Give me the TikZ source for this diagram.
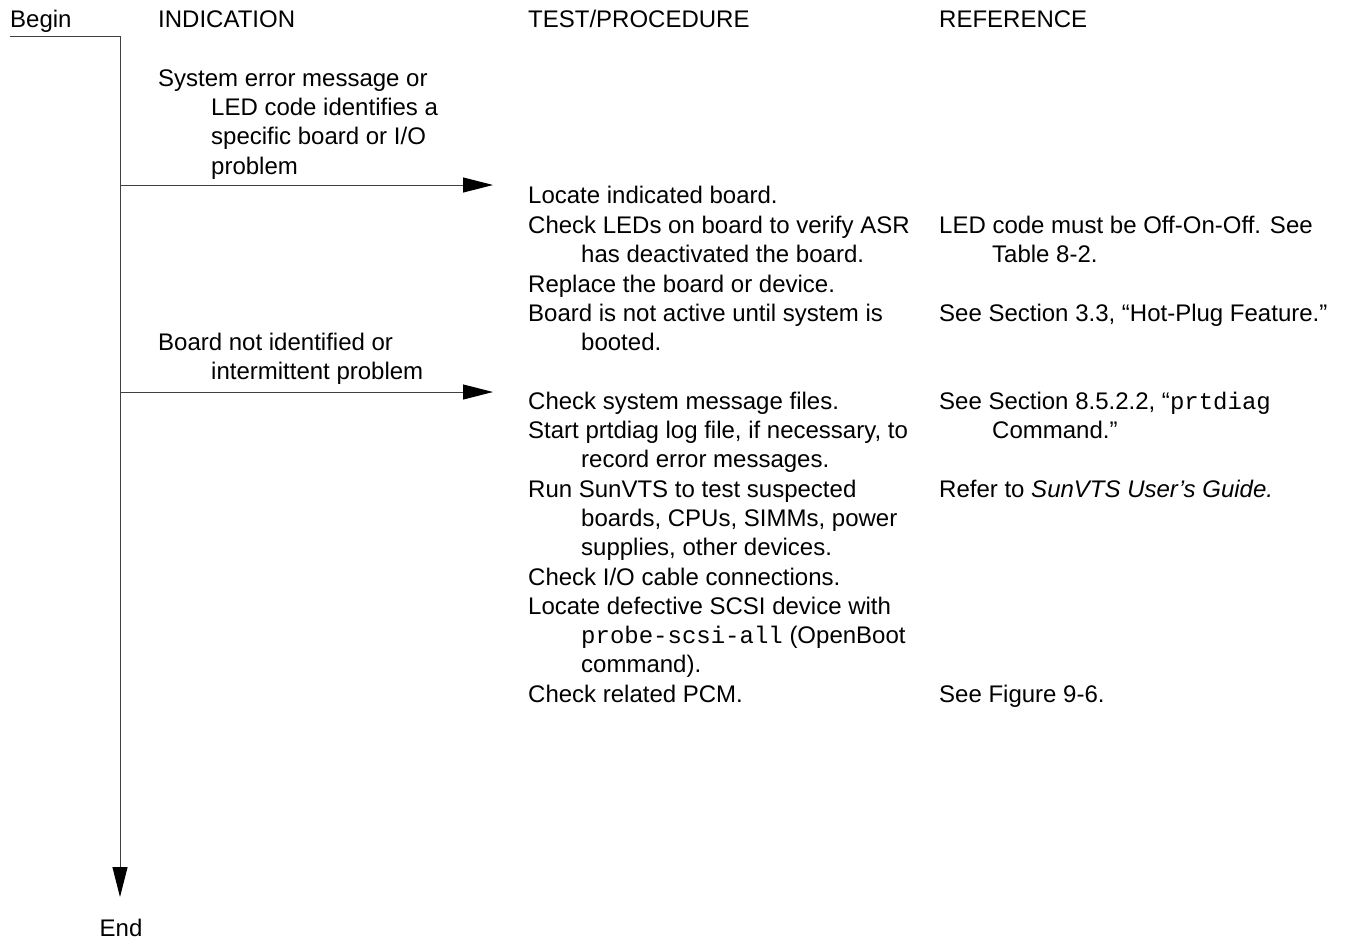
\documentclass[tikz,border=0pt]{standalone}
\usepackage{fontspec}
\setmainfont{Liberation Sans}
\setmonofont{Liberation Mono}
\usetikzlibrary{arrows.meta}
\newcommand{\hang}{\hspace*{53pt}}
\newcommand{\lines}[1]{\begin{tabular}[t]{@{}l@{}}#1\end{tabular}}
\begin{document}
\begin{tikzpicture}[x=1pt,y=-1pt,
  txt/.style={anchor=base west, inner sep=0pt, font=\fontsize{24}{29.35}\selectfont},
  conn/.style={draw=black!75, line width=1pt},
  tip/.style={-{Triangle[length=30pt,width=15pt,fill=black,color=black]}}]
\useasboundingbox (0,0) rectangle (1345,938);
\fill[white] (0,0) rectangle (1345,938);
% headings
\node[txt] (begin) at (10,27) {Begin};
\node[txt] (hind) at (158,27) {INDICATION};
\node[txt] (htest) at (528,27) {TEST/PROCEDURE};
\node[txt] (href) at (939,27) {REFERENCE};
% indications
\node[txt] (ind1) at (158,86) {\lines{System error message or\\\hang LED code identifies a\\\hang specific board or I/O\\\hang problem}};
\node[txt] (ind2) at (158,350) {\lines{Board not identified or\\\hang intermittent problem}};
% tests, group 1
\node[txt] (t1) at (528,203) {Locate indicated board.};
\node[txt] (t2) at (528,233) {\lines{Check LEDs on board to verify ASR\\\hang has deactivated the board.}};
\node[txt] (t3) at (528,292) {Replace the board or device.};
\node[txt] (t4) at (528,321) {\lines{Board is not active until system is\\\hang booted.}};
% tests, group 2
\node[txt] (t5) at (528,409) {Check system message files.};
\node[txt] (t6) at (528,438) {\lines{Start prtdiag log file, if necessary, to\\\hang record error messages.}};
\node[txt] (t7) at (528,497) {\lines{Run SunVTS to test suspected\\\hang boards, CPUs, SIMMs, power\\\hang supplies, other devices.}};
\node[txt] (t8) at (528,585) {Check I/O cable connections.};
\node[txt] (t9) at (528,614) {\lines{Locate defective SCSI device with\\\hang\texttt{probe-scsi-all} (OpenBoot\\\hang command).}};
\node[txt] (t10) at (528,702) {Check related PCM.};
% references
\node[txt] (r2) at (939,233) {\lines{LED code must be Off-On-Off. See\\\hang Table 8-2.}};
\node[txt] (r4) at (939,321) {See Section 3.3, “Hot-Plug Feature.”};
\node[txt] (r5) at (939,409) {\lines{See Section 8.5.2.2, “\texttt{prtdiag}\\\hang Command.”}};
\node[txt] (r7) at (939,497) {Refer to \textit{SunVTS User’s Guide.}};
\node[txt] (r10) at (939,702) {See Figure 9-6.};
% end
\node[txt, anchor=base, text depth=0pt] (end) at (121,936) {End};
% connectors
\coordinate (bstart) at (10,36);
\coordinate (corner) at (120,36);
\coordinate (vend) at (120,897);
\coordinate (b1) at (120,185);
\coordinate (a1) at (493,185);
\coordinate (b2) at (120,392);
\coordinate (a2) at (493,392);
\draw[conn, tip] (bstart) -- (corner) -- (vend);
\draw[conn, tip] (b1) -- (a1);
\draw[conn, tip] (b2) -- (a2);
\end{tikzpicture}
\end{document}
